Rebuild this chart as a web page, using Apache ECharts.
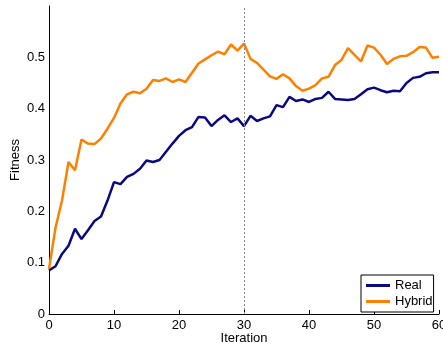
<!DOCTYPE html>
<html>
<head>
<meta charset="utf-8">
<script src="https://cdn.jsdelivr.net/npm/echarts@6/dist/echarts.min.js"></script>
<style>
  html, body { margin: 0; padding: 0; background: #fff; }
  #chart { width: 443px; height: 349px; }
</style>
</head>
<body>
<div id="chart"></div>
<script>
// Iteration index for each recorded fitness value
const iterations = [
  0, 1, 2, 3, 4, 5, 6, 7, 8, 9, 10, 11, 12, 13, 14, 15, 16, 17, 18, 19, 20,
  21, 22, 23, 24, 25, 26, 27, 28, 29, 30, 31, 32, 33, 34, 35, 36, 37, 38, 39, 40,
  41, 42, 43, 44, 45, 46, 47, 48, 49, 50, 51, 52, 53, 54, 55, 56, 57, 58, 59, 60
];

// Fitness of the real-valued encoding
const realFitness = [
  0.085, 0.093, 0.117, 0.133, 0.166, 0.146, 0.163, 0.181, 0.190, 0.221, 0.257,
  0.253, 0.267, 0.273, 0.283, 0.299, 0.296, 0.300, 0.316, 0.332, 0.347,
  0.358, 0.364, 0.384, 0.383, 0.366, 0.378, 0.387, 0.374, 0.381, 0.366,
  0.386, 0.376, 0.381, 0.385, 0.407, 0.403, 0.423, 0.415, 0.418, 0.413,
  0.419, 0.421, 0.433, 0.419, 0.418, 0.417, 0.419, 0.428, 0.438, 0.441,
  0.436, 0.432, 0.435, 0.434, 0.450, 0.460, 0.462, 0.469, 0.471, 0.471
];

// Fitness of the hybrid encoding
const hybridFitness = [
  0.088, 0.168, 0.221, 0.296, 0.280, 0.340, 0.332, 0.331, 0.342, 0.361, 0.382,
  0.410, 0.428, 0.433, 0.430, 0.439, 0.456, 0.454, 0.459, 0.452, 0.457,
  0.452, 0.470, 0.488, 0.496, 0.504, 0.511, 0.506, 0.525, 0.513, 0.527,
  0.497, 0.489, 0.476, 0.463, 0.458, 0.467, 0.459, 0.444, 0.435, 0.439,
  0.446, 0.459, 0.462, 0.485, 0.495, 0.518, 0.505, 0.492, 0.523, 0.519,
  0.505, 0.487, 0.497, 0.502, 0.503, 0.510, 0.520, 0.519, 0.499, 0.501
];

// Iteration at which the dotted reference line is drawn
const markerIteration = 30;

const seriesNames = ['Real', 'Hybrid'];
const FONT = 'Liberation Sans, Arial, Helvetica, sans-serif';

const pairs = (ys) => iterations.map((x, i) => [x, ys[i]]);

const chart = echarts.init(document.getElementById('chart'), null, { renderer: 'canvas' });

chart.setOption({
  animation: false,
  backgroundColor: '#fff',
  textStyle: { fontFamily: FONT },
  grid: { left: 49, right: 4, top: 6, bottom: 35, containLabel: false, outerBoundsMode: 'none' },
  legend: {
    data: seriesNames,
    orient: 'vertical',
    left: 361,
    top: 275,
    icon: 'rect',
    itemWidth: 24,
    itemHeight: 3,
    itemGap: 3,
    padding: [4, 1, 4, 5],
    borderColor: '#000',
    borderWidth: 1,
    backgroundColor: '#fff',
    textStyle: { fontFamily: FONT, fontSize: 13, color: '#000', lineHeight: 13 }
  },
  xAxis: {
    type: 'value',
    min: 0,
    max: 60,
    interval: 10,
    name: 'Iteration',
    nameLocation: 'middle',
    nameGap: 18,
    nameMoveOverlap: false,
    nameTextStyle: { fontFamily: FONT, fontSize: 13, color: '#000' },
    axisLine: { lineStyle: { color: '#000', width: 1 } },
    axisTick: { inside: true, length: 4, lineStyle: { color: '#000' } },
    axisLabel: { fontFamily: FONT, fontSize: 13, color: '#000', margin: 5 },
    splitLine: { show: false }
  },
  yAxis: {
    type: 'value',
    min: 0,
    max: 0.6,
    interval: 0.1,
    name: 'Fitness',
    nameLocation: 'middle',
    nameRotate: 90,
    nameGap: 27,
    nameMoveOverlap: false,
    nameTextStyle: { fontFamily: FONT, fontSize: 13, color: '#000' },
    axisLine: { show: true, lineStyle: { color: '#000', width: 1 } },
    axisTick: { show: false },
    axisLabel: {
      fontFamily: FONT, fontSize: 13, color: '#000', margin: 4,
      formatter: (v) => (v > 0.55 ? '' : (v === 0 ? '0' : v.toFixed(1)))
    },
    splitLine: { show: false }
  },
  series: [
    {
      name: seriesNames[0],
      type: 'line',
      data: pairs(realFitness),
      showSymbol: false,
      color: '#0a0a80',
      lineStyle: { color: '#0a0a80', width: 2.5 },
      markLine: {
        silent: true,
        symbol: 'none',
        label: { show: false },
        lineStyle: { type: [2, 2], color: '#888', width: 1 },
        data: [{ xAxis: markerIteration }]
      }
    },
    {
      name: seriesNames[1],
      type: 'line',
      data: pairs(hybridFitness),
      showSymbol: false,
      color: '#ff8000',
      lineStyle: { color: '#ff8000', width: 2.5 }
    }
  ]
});
</script>
</body>
</html>
